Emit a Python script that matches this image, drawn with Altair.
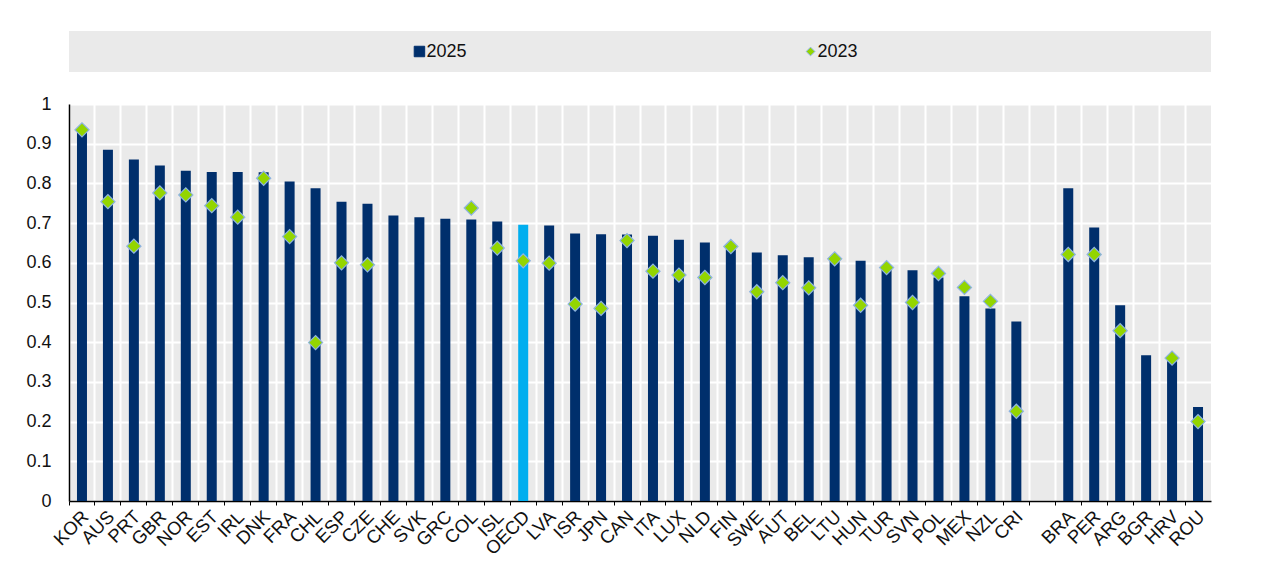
import altair as alt
import pandas as pd

countries = ["KOR", "AUS", "PRT", "GBR", "NOR", "EST", "IRL", "DNK", "FRA", "CHL",
             "ESP", "CZE", "CHE", "SVK", "GRC", "COL", "ISL", "OECD", "LVA", "ISR",
             "JPN", "CAN", "ITA", "LUX", "NLD", "FIN", "SWE", "AUT", "BEL", "LTU",
             "HUN", "TUR", "SVN", "POL", "MEX", "NZL", "CRI", "",
             "BRA", "PER", "ARG", "BGR", "HRV", "ROU"]
v2025 = [0.937, 0.885, 0.860, 0.845, 0.832, 0.829, 0.829, 0.828, 0.805, 0.788,
         0.754, 0.749, 0.719, 0.715, 0.711, 0.709, 0.704, 0.696, 0.694, 0.674,
         0.672, 0.671, 0.668, 0.658, 0.651, 0.634, 0.626, 0.619, 0.614, 0.605,
         0.605, 0.585, 0.581, 0.563, 0.516, 0.485, 0.452, None,
         0.788, 0.689, 0.493, 0.367, 0.352, 0.237]
v2023 = [0.935, 0.754, 0.642, 0.776, 0.771, 0.744, 0.715, 0.813, 0.666, 0.399,
         0.600, 0.595, None, None, None, 0.738, 0.637, 0.605, 0.599, 0.496,
         0.485, 0.656, 0.579, 0.569, 0.563, 0.641, 0.527, 0.550, 0.537, 0.610,
         0.493, 0.588, 0.500, 0.573, 0.538, 0.503, 0.226, None,
         0.621, 0.621, 0.429, None, 0.360, 0.200]
series_names = ["2025", "2023"]
y_ticks = [0, 0.1, 0.2, 0.3, 0.4, 0.5, 0.6, 0.7, 0.8, 0.9, 1]

NAVY = "#002F6C"
CYAN = "#00AEEF"
GREEN = "#93D500"
EDGE = "#8DB3E2"
BG = "#EAEAEA"
FONT = "Liberation Sans"
INK = "#111111"

df = pd.DataFrame({"country": countries, "y2025": v2025, "y2023": v2023})
legend_df = pd.DataFrame({"series": series_names})

x_scale = alt.Scale(domain=countries, paddingInner=0, paddingOuter=0)
x_axis = alt.Axis(title=None, labelAngle=-45, bandPosition=0, labelOffset=-3,
                  grid=True, gridColor="white", gridWidth=2,
                  tickSize=4, tickColor="black", domainColor="black", domainWidth=1.5,
                  labelFont=FONT, labelFontSize=18.5, labelPadding=2, labelColor=INK,
                  labelOverlap=False)
y_scale = alt.Scale(domain=[0, 1], nice=False)
y_axis = alt.Axis(title=None, values=y_ticks, format=".1~f", grid=True, gridColor="white",
                  gridWidth=2, ticks=False, labelPadding=18, domainColor="black",
                  domainWidth=1.5, labelFont=FONT, labelFontSize=18, labelColor=INK,
                  labelOverlap=False)

bars = alt.Chart(df).mark_bar(size=10).encode(
    x=alt.X("country:N", sort=countries, scale=x_scale, axis=x_axis),
    y=alt.Y("y2025:Q", scale=y_scale, axis=y_axis),
    color=alt.condition(alt.datum.country == "OECD", alt.value(CYAN), alt.value(NAVY)),
)
diamonds = alt.Chart(df).mark_point(
    shape="diamond", filled=True, size=200, fill=GREEN, stroke=EDGE, strokeWidth=1.2, opacity=1
).encode(
    x=alt.X("country:N", sort=countries, scale=x_scale, axis=x_axis),
    y=alt.Y("y2023:Q", scale=y_scale, axis=y_axis),
)
main = alt.layer(bars, diamonds).properties(width=1142, height=397)

leg_x = alt.X("series:N", scale=alt.Scale(domain=series_names, padding=0.96), axis=None)
leg_symbols = alt.Chart(legend_df).mark_point(filled=True, xOffset=-25, opacity=1, strokeWidth=1).encode(
    x=leg_x,
    shape=alt.Shape("series:N", scale=alt.Scale(domain=series_names, range=["square", "diamond"]), legend=None),
    fill=alt.Fill("series:N", scale=alt.Scale(domain=series_names, range=[NAVY, GREEN]), legend=None),
    stroke=alt.Stroke("series:N", scale=alt.Scale(domain=series_names, range=[NAVY, EDGE]), legend=None),
    size=alt.Size("series:N", scale=alt.Scale(domain=series_names, range=[110, 75]), legend=None),
)
leg_text = alt.Chart(legend_df).mark_text(
    align="left", dx=-18, font=FONT, fontSize=18, color=INK
).encode(
    x=leg_x,
    text="series:N",
)
legend = alt.layer(leg_symbols, leg_text).properties(width=1142, height=41)

chart = alt.vconcat(legend, main, spacing=23).properties(
    padding={"left": 17, "top": 23, "right": 5, "bottom": 5}
).configure(font=FONT).configure_view(fill=BG, strokeWidth=0)

chart.save("out.html", embed_options={"renderer": "svg", "actions": False})
